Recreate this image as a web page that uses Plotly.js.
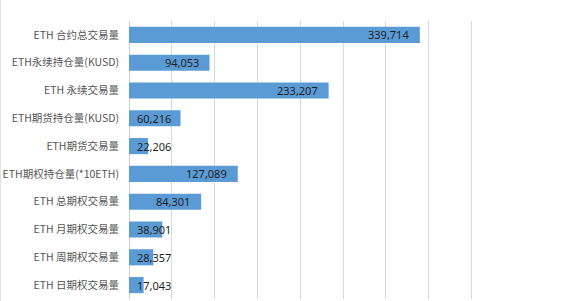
<!DOCTYPE html>
<html><head><meta charset="utf-8">
<script src="https://cdn.plot.ly/plotly-3.0.1.min.js"></script>
<style>html,body{margin:0;padding:0;background:#fff;}#chart{width:580px;height:301px;box-sizing:border-box;border-left:1px solid #e3e3e3;}</style>
</head><body><div id="chart"></div>
<script>
const categories = ["ETH 合约总交易量","ETH永续持仓量(KUSD)","ETH 永续交易量","ETH期货持仓量(KUSD)","ETH期货交易量","ETH期权持仓量(*10ETH)","ETH 总期权交易量","ETH 月期权交易量","ETH 周期权交易量","ETH 日期权交易量"];
const values = [339714,94053,233207,60216,22206,127089,84301,38901,28357,17043];

const xMax = 410000;
const plotW = 351; // px width of plot area
const fmt = v => v.toLocaleString('en-US');
const annotations = values.map((v, i) => {
  const barPx = v / xMax * plotW;
  const small = barPx < 60;
  return {
    x: small ? 0 : v, y: categories[i], xref: 'x', yref: 'y',
    text: fmt(v), showarrow: false,
    xanchor: small ? 'left' : 'right', xshift: small ? 6 : -9,
    font: {family: 'Noto Sans, sans-serif', size: 11, color: '#1f1f1f'}
  };
});

const trace = {
  type: 'bar', orientation: 'h', x: values, y: categories,
  marker: {color: '#5b9bd5'}, hoverinfo: 'none'
};
const layout = {
  width: 579, height: 301,
  margin: {l: 128, r: 100, t: 21, b: 2, pad: 0},
  paper_bgcolor: '#fff', plot_bgcolor: '#fff',
  bargap: 0.42, showlegend: false,
  xaxis: {range: [0, xMax], dtick: 50000, showticklabels: false, showgrid: true,
          gridcolor: '#d9d9d9', gridwidth: 1, zeroline: true, zerolinecolor: '#d0d0d0', zerolinewidth: 1, fixedrange: true},
  yaxis: {autorange: 'reversed', showgrid: false, ticks: '', ticklen: 0, automargin: false, ticklabelstandoff: 9,
          tickfont: {family: '"Noto Sans CJK SC", sans-serif', size: 10.5, color: '#555555'}},
  annotations: annotations
};
Plotly.newPlot('chart', [trace], layout, {displayModeBar: false, staticPlot: true});
</script></body></html>
